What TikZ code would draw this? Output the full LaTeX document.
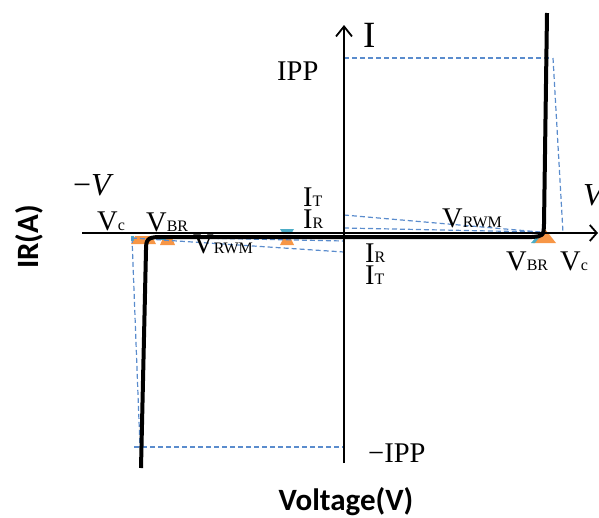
\documentclass[tikz,border=0pt]{standalone}
\usepackage{fontspec}
\setmainfont{Liberation Serif}
\newfontfamily\labelsans{Carlito}
\usetikzlibrary{arrows.meta}
\definecolor{dashblue}{RGB}{90,140,205}
\definecolor{mkorange}{RGB}{247,150,70}
\definecolor{mkteal}{RGB}{75,172,198}
\newcommand\bigtxt{\fontsize{28.5}{28.5}\selectfont}
\newcommand\subtxt{\fontsize{16}{16}\selectfont}
\begin{document}
\begin{tikzpicture}[x=1pt,y=-1pt,
  lbl/.style={inner sep=0pt,anchor=base west,font=\bigtxt},
  guide/.style={dashblue,line width=1.2pt,dash pattern=on 5pt off 3pt},
  curve/.style={line width=4pt,line join=round},
  axis/.style={line width=1.8pt},
  axlabel/.style={inner sep=0pt,anchor=base,font=\labelsans\bfseries\fontsize{31}{31}\selectfont}]
\useasboundingbox (0,0) rectangle (599,517);
% key points
\coordinate (O) at (344,233);
\coordinate (xs) at (82,233);
\coordinate (xe) at (598,233);
\coordinate (ys) at (344,463);
\coordinate (ye) at (344,25);
\coordinate (ippY) at (344,58);
\coordinate (ippR) at (551,58);
\coordinate (vcTop) at (553,58);
\coordinate (vcR) at (563,233);
\coordinate (mippY) at (344,447);
\coordinate (mippL) at (134,447);
\coordinate (vcL) at (132,238);
\coordinate (mippL2) at (140,447);
\coordinate (itU) at (344,215);
\coordinate (irU) at (344,228);
\coordinate (vbrR) at (540,232);
\coordinate (itD) at (344,252);
\coordinate (irD) at (344,241);
\coordinate (vbrL) at (150,237);
% markers
\fill[mkorange] (131,244) -- (135,236) -- (152,236) -- (156,244) -- cycle;
\fill[mkteal] (131,236) rectangle (134,241);
\fill[mkorange] (160,245) -- (163,238) -- (172,238) -- (175,245) -- cycle;
\fill[mkteal] (158,237) rectangle (166,240);
\fill[mkteal] (280,229) -- (294,229) -- (291,234) -- (283,234) -- cycle;
\fill[mkorange] (280,245) -- (283,239) -- (291,239) -- (294,245) -- cycle;
\fill[mkorange] (533,243) -- (545,229) -- (556,243) -- cycle;
\fill[mkteal] (531,243) -- (538,235) -- (541,235) -- (535,243) -- cycle;
% guides
\draw[guide] (ippY) -- (ippR);
\draw[guide] (vcTop) -- (vcR);
\draw[guide] (mippL) -- (mippY);
\draw[guide] (vcL) -- (mippL2);
\draw[guide] (itU) -- (vbrR);
\draw[guide] (irU) -- (vbrR);
\draw[guide] (vcL) -- (itD);
\draw[guide] (vbrL) -- (irD);
% axes
\draw[axis,-{Straight Barb[length=7pt,width=16pt]}] (xs) -- (xe);
\draw[axis,-{Straight Barb[length=10pt,width=16pt]}] (ys) -- (ye);
% characteristic curve
\draw[curve] (547,13) -- (544,224) .. controls (543.5,236) .. (532,237)
  -- (160,237) .. controls (147,237) and (146,240) .. (146,250) -- (141,468);
% labels
\node[lbl] (Itop) at (363,47) {\fontsize{37}{37}\selectfont I};
\node[lbl] (ipp) at (277,80) {IPP};
\node[lbl] (mv) at (73,195) {\fontsize{32}{32}\selectfont −\textit{V}};
\node[lbl] (vpos) at (583,205) {\fontsize{32}{32}\selectfont\textit{V}};
\node[lbl] (vcl) at (97,230) {V{\subtxt c}};
\node[lbl] (vbrl) at (146,231) {V{\subtxt BR}};
\node[lbl] (vrwml) at (193,253) {V{\subtxt RWM}};
\node[lbl] (itl) at (303,206) {I{\subtxt T}};
\node[lbl] (irl) at (303,228) {I{\subtxt R}};
\node[lbl] (irr) at (365,262) {I{\subtxt R}};
\node[lbl] (itr) at (365,284) {I{\subtxt T}};
\node[lbl] (vrwmr) at (442,227) {V{\subtxt RWM}};
\node[lbl] (vbrr) at (506,270) {V{\subtxt BR}};
\node[lbl] (vcr) at (560,270) {V{\subtxt c}};
\node[lbl] (mipp) at (368,462) {−IPP};
\node[axlabel] (xl) at (346,510) {Voltage(V)};
\node[axlabel,rotate=90] (yl) at (38,237) {IR(A)};
\end{tikzpicture}
\end{document}
